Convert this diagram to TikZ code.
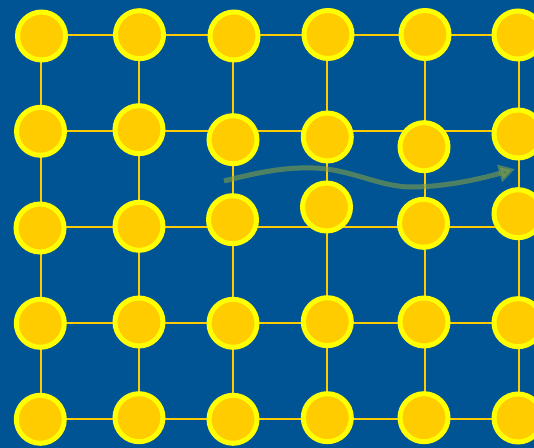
\documentclass[tikz,border=0pt]{standalone}
\usetikzlibrary{arrows.meta}

\definecolor{seablue}{RGB}{0,84,147}
\definecolor{dotfill}{RGB}{255,204,0}
\definecolor{dotrim}{RGB}{255,255,0}
\definecolor{wavegreen}{RGB}{130,160,70}

\begin{document}
\begin{tikzpicture}[
        x=0.02cm, y=-0.02cm,
        link/.style={draw=dotfill, line width=0.04cm},
        dot/.style={circle, draw=dotrim, fill=dotfill, line width=0.1cm, minimum size=0.96cm, inner sep=0pt},
        wave/.style={draw=wavegreen, opacity=0.6, line width=0.1cm, -{Triangle[length=0.32cm, width=0.34cm]}}
    ]
    % background and frame
    \fill[seablue] (0,0) rectangle (534,448);
    \useasboundingbox (0,0) rectangle (534,448);
    \clip (0,0) rectangle (534,448);

    % lattice points
    \foreach \c/\x in {1/40.5, 2/139, 3/232.5, 4/327, 5/424.5, 6/518.5}
        \foreach \r/\y in {1/34.7, 2/130.7, 3/226.7, 4/323, 5/419}
            \coordinate (g\c\r) at (\x,\y);

    % links of the lattice
    \foreach \r in {1,...,5} {
        \draw[link] (g1\r) -- (g6\r);
    }
    \foreach \c in {1,...,6} {
        \draw[link] (g\c1) -- (g\c5);
    }

    % atoms, some pushed off their places
    \node[dot] (a11) at (41.5,36) {};
    \node[dot] (a21) at (139.5,34.7) {};
    \node[dot] (a31) at (234,36) {};
    \node[dot] (a41) at (328,34.5) {};
    \node[dot] (a51) at (425,34.5) {};
    \node[dot] (a61) at (518,35) {};

    \node[dot] (a12) at (40.5,131.3) {};
    \node[dot] (a22) at (139,129.7) {};
    \node[dot] (a32) at (233,139.7) {};
    \node[dot] (a42) at (327.3,137) {};
    \node[dot] (a52) at (424,146.7) {};
    \node[dot] (a62) at (518,134) {};

    \node[dot] (a13) at (40,228) {};
    \node[dot] (a23) at (139,226.3) {};
    \node[dot] (a33) at (232.5,219.7) {};
    \node[dot] (a43) at (326.5,207) {};
    \node[dot] (a53) at (423.5,223.3) {};
    \node[dot] (a63) at (518,213.7) {};

    \node[dot] (a14) at (40.3,323.3) {};
    \node[dot] (a24) at (139,322) {};
    \node[dot] (a34) at (233,323.3) {};
    \node[dot] (a44) at (327.3,321.7) {};
    \node[dot] (a54) at (424,322) {};
    \node[dot] (a64) at (518,322.7) {};

    \node[dot] (a15) at (40.3,419.3) {};
    \node[dot] (a25) at (139,417.7) {};
    \node[dot] (a35) at (233,419.3) {};
    \node[dot] (a45) at (327.3,417.7) {};
    \node[dot] (a55) at (424,417.7) {};
    \node[dot] (a65) at (518,418) {};

    % travelling wave
    \coordinate (wstart) at (224,181);
    \coordinate (wtop) at (314,168);
    \coordinate (wlow) at (411,187);
    \coordinate (wend) at (515,169);
    \draw[wave] (wstart) .. controls (260,172) and (285,167) .. (wtop)
        .. controls (350,169) and (380,187) .. (wlow)
        .. controls (445,187) and (480,179) .. (wend);
\end{tikzpicture}
\end{document}
